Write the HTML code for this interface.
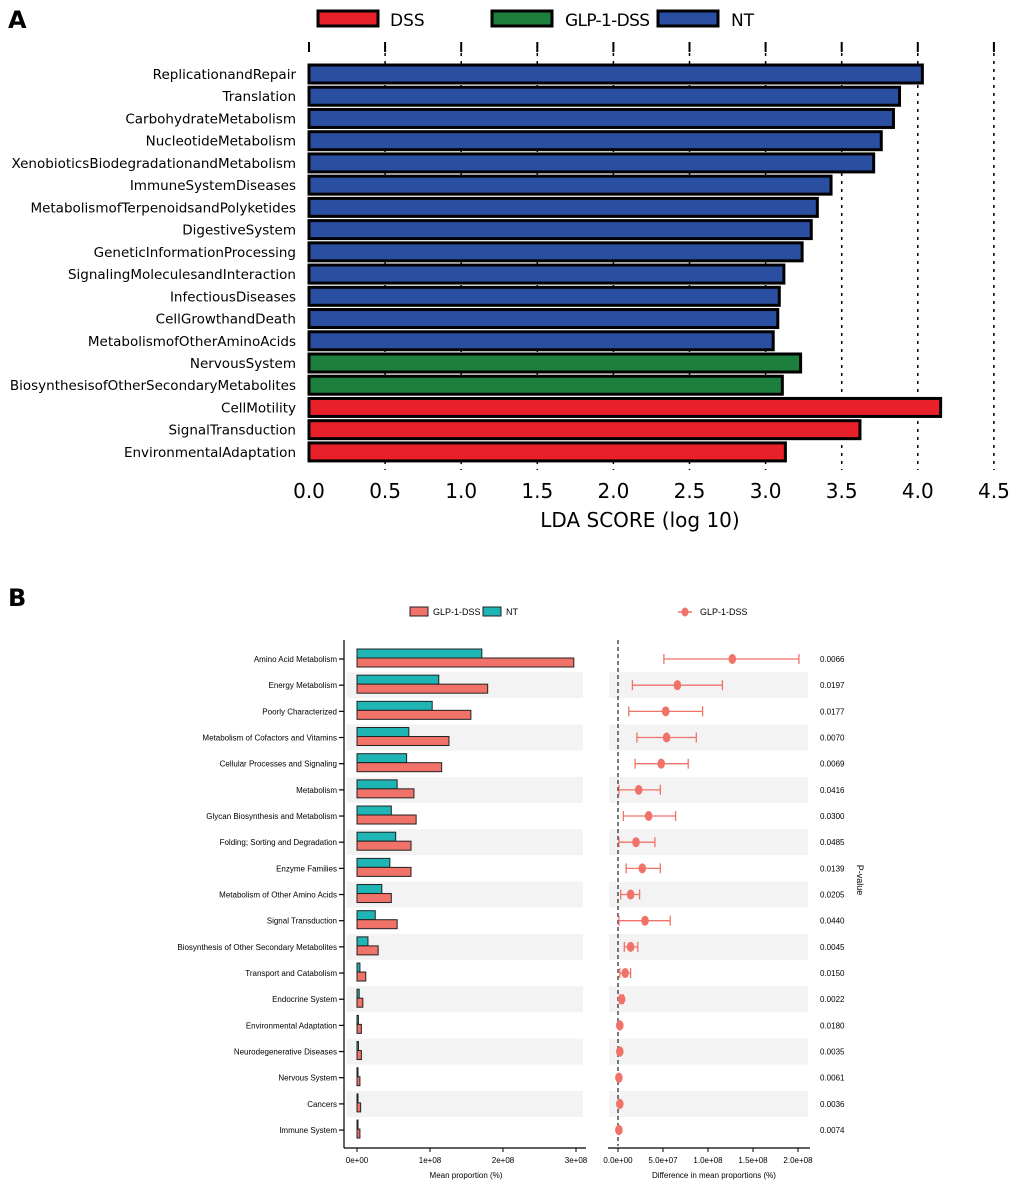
<!DOCTYPE html>
<html><head><meta charset="utf-8"><style>
body{margin:0;background:#fff}
svg{display:block}
.a{font-family:"DejaVu Sans","Liberation Sans",sans-serif}
.b{font-family:"Liberation Sans Narrow","Liberation Sans",sans-serif}
</style></head><body>
<svg id="s" width="1020" height="1192" viewBox="0 0 1020 1192" xmlns="http://www.w3.org/2000/svg">
<text x="8" y="28" class="a" font-size="24" font-weight="bold">A</text>
<text x="8" y="606" class="a" font-size="24" font-weight="bold">B</text>
<g>
<rect x="318" y="11" width="60" height="15" fill="#e8202a" stroke="#000" stroke-width="3"/>
<text x="390" y="26" class="a" font-size="17">DSS</text>
<rect x="492" y="11" width="60" height="15" fill="#1d7f3e" stroke="#000" stroke-width="3"/>
<text x="565" y="26" class="a" font-size="17" textLength="85">GLP-1-DSS</text>
<rect x="658" y="11" width="60" height="15" fill="#2a4ea0" stroke="#000" stroke-width="3"/>
<text x="731" y="26" class="a" font-size="17">NT</text>
</g>
<g id="ga"></g>
<g>
<rect x="410" y="607" width="18" height="9" fill="#f07268" stroke="#222" stroke-width="1"/>
<text x="433" y="615" class="b" font-size="9">GLP-1-DSS</text>
<rect x="483" y="607" width="18" height="9" fill="#1fb5b5" stroke="#222" stroke-width="1"/>
<text x="506" y="615" class="b" font-size="9">NT</text>
<line x1="678" y1="612" x2="692" y2="612" stroke="#f07268" stroke-width="1.5"/>
<ellipse cx="685" cy="612" rx="3.5" ry="4.5" fill="#f07268"/>
<text x="700" y="615" class="b" font-size="9">GLP-1-DSS</text>
</g>
<g id="gb"></g>
<text transform="translate(857,880) rotate(90)" class="b" font-size="9" text-anchor="middle">P-value</text>
</svg>
<script>
const NS="http://www.w3.org/2000/svg";
function mk(p,t,a,txt){const e=document.createElementNS(NS,t);for(const k in a)e.setAttribute(k,a[k]);if(txt!==undefined)e.textContent=txt;p.appendChild(e);return e;}
// Panel A data
const aCats=["ReplicationandRepair","Translation","CarbohydrateMetabolism","NucleotideMetabolism","XenobioticsBiodegradationandMetabolism","ImmuneSystemDiseases","MetabolismofTerpenoidsandPolyketides","DigestiveSystem","GeneticInformationProcessing","SignalingMoleculesandInteraction","InfectiousDiseases","CellGrowthandDeath","MetabolismofOtherAminoAcids","NervousSystem","BiosynthesisofOtherSecondaryMetabolites","CellMotility","SignalTransduction","EnvironmentalAdaptation"];
const aScores=[4.03,3.88,3.84,3.76,3.71,3.43,3.34,3.30,3.24,3.12,3.09,3.08,3.05,3.23,3.11,4.15,3.62,3.13];
const aGroups=["NT","NT","NT","NT","NT","NT","NT","NT","NT","NT","NT","NT","NT","GLP-1-DSS","GLP-1-DSS","DSS","DSS","DSS"];
const aTicks=[0,0.5,1,1.5,2,2.5,3,3.5,4,4.5];
const aColors={"NT":"#2a4ea0","GLP-1-DSS":"#1d7f3e","DSS":"#e8202a"};
// Panel B data
const bCats=["Amino Acid Metabolism","Energy Metabolism","Poorly Characterized","Metabolism of Cofactors and Vitamins","Cellular Processes and Signaling","Metabolism","Glycan Biosynthesis and Metabolism","Folding; Sorting and Degradation","Enzyme Families","Metabolism of Other Amino Acids","Signal Transduction","Biosynthesis of Other Secondary Metabolites","Transport and Catabolism","Endocrine System","Environmental Adaptation","Neurodegenerative Diseases","Nervous System","Cancers","Immune System"];
const bNT=[1.71,1.12,1.03,0.71,0.68,0.55,0.47,0.53,0.45,0.34,0.25,0.15,0.04,0.03,0.02,0.02,0.01,0.01,0.01];
const bGLP=[2.97,1.79,1.56,1.26,1.16,0.78,0.81,0.74,0.74,0.47,0.55,0.29,0.12,0.08,0.06,0.06,0.04,0.05,0.04];
const bDiff=[12.7,6.6,5.3,5.4,4.8,2.3,3.4,2.0,2.7,1.4,3.0,1.4,0.8,0.4,0.2,0.2,0.1,0.2,0.1];
const bLo=[5.1,1.6,1.2,2.1,1.9,0.1,0.6,0.1,0.9,0.3,0.1,0.7,0.2,0.2,0.1,0.1,0.05,0.1,0.05];
const bHi=[20.1,11.6,9.4,8.7,7.8,4.7,6.4,4.1,4.7,2.4,5.8,2.2,1.4,0.6,0.3,0.3,0.15,0.3,0.15];
const bP=["0.0066","0.0197","0.0177","0.0070","0.0069","0.0416","0.0300","0.0485","0.0139","0.0205","0.0440","0.0045","0.0150","0.0022","0.0180","0.0035","0.0061","0.0036","0.0074"];
const bLeftTicks=[0,1,2,3];
const bLeftTickLabels=["0e+00","1e+08","2e+08","3e+08"];
const bRightTicks=[0,5,10,15,20];
const bRightTickLabels=["0.0e+00","5.0e+07","1.0e+08","1.5e+08","2.0e+08"];

// Panel A draw
const ga=document.getElementById('ga');
const ax=v=>309+v*152.2, ay=i=>74+i*22.23;
aTicks.forEach((t,i)=>{if(i>0){const l=mk(ga,'line',{x1:ax(t),x2:ax(t),y1:45,y2:470,stroke:'#000','stroke-width':1.5,'stroke-dasharray':'3,5'});

}
const tk=mk(ga,'line',{x1:ax(t),x2:ax(t),y1:42,y2:52,stroke:'#000','stroke-width':2});


const tl=mk(ga,'text',{x:ax(t),y:498,'text-anchor':'middle','font-size':20,class:'a'},t.toFixed(1));

});
aCats.forEach((c,i)=>{const r=mk(ga,'rect',{x:ax(0),y:ay(i)-9,width:ax(aScores[i])-ax(0),height:18,fill:aColors[aGroups[i]],stroke:'#000','stroke-width':3});


const t=mk(ga,'text',{x:296,y:ay(i)+5,'text-anchor':'end','font-size':13.5,class:'a'},c);

});
const xt=mk(ga,'text',{x:640,y:527,'text-anchor':'middle','font-size':20,class:'a'},'LDA SCORE (log 10)');



// Panel B draw
const gb=document.getElementById('gb');
const lx=v=>357+v*73, rx=v=>618+v*9, by=i=>659+i*26.17;
bCats.forEach((c,i)=>{if(i%2==1){const s1=mk(gb,'rect',{x:347,y:by(i)-13,width:236,height:26,fill:'#f3f3f3'});


const s2=mk(gb,'rect',{x:609,y:by(i)-13,width:199,height:26,fill:'#f3f3f3'});

}});
mk(gb,'line',{x1:344,x2:344,y1:640,y2:1148,stroke:'#000','stroke-width':1.2});
mk(gb,'line',{x1:344,x2:586,y1:1148,y2:1148,stroke:'#000','stroke-width':1.2});
mk(gb,'line',{x1:608,x2:810,y1:1148,y2:1148,stroke:'#000','stroke-width':1.2});
mk(gb,'line',{x1:rx(0),x2:rx(0),y1:640,y2:1146,stroke:'#222','stroke-width':1.2,'stroke-dasharray':'4,3'});
bLeftTicks.forEach((t,i)=>{mk(gb,'line',{x1:lx(t),x2:lx(t),y1:1148,y2:1152,stroke:'#000'});
const l=mk(gb,'text',{x:lx(t),y:1163,'text-anchor':'middle','font-size':8,class:'b'},bLeftTickLabels[i]);

});
bRightTicks.forEach((t,i)=>{mk(gb,'line',{x1:rx(t),x2:rx(t),y1:1148,y2:1152,stroke:'#000'});
const l=mk(gb,'text',{x:rx(t),y:1163,'text-anchor':'middle','font-size':8,class:'b'},bRightTickLabels[i]);

});
const t1=mk(gb,'text',{x:466,y:1178,'text-anchor':'middle','font-size':8,class:'b'},'Mean proportion (%)');


const t2=mk(gb,'text',{x:714,y:1178,'text-anchor':'middle','font-size':8,class:'b'},'Difference in mean proportions (%)');


bCats.forEach((c,i)=>{const y=by(i);
mk(gb,'line',{x1:339,x2:344,y1:y,y2:y,stroke:'#000','stroke-width':1.2});
const lb=mk(gb,'text',{x:337,y:y+3,'text-anchor':'end','font-size':8,class:'b'},c);


const r1=mk(gb,'rect',{x:lx(0),y:y-10,width:Math.max(lx(bNT[i])-lx(0),1),height:9,fill:'#1fb5b5',stroke:'#222','stroke-width':1});


const r2=mk(gb,'rect',{x:lx(0),y:y-1,width:Math.max(lx(bGLP[i])-lx(0),1),height:9,fill:'#f07268',stroke:'#222','stroke-width':1});


mk(gb,'line',{x1:rx(bLo[i]),x2:rx(bHi[i]),y1:y,y2:y,stroke:'#f07268','stroke-width':1.3});
mk(gb,'line',{x1:rx(bLo[i]),x2:rx(bLo[i]),y1:y-5,y2:y+5,stroke:'#f07268','stroke-width':1.3});
mk(gb,'line',{x1:rx(bHi[i]),x2:rx(bHi[i]),y1:y-5,y2:y+5,stroke:'#f07268','stroke-width':1.3});
const pt=mk(gb,'ellipse',{cx:rx(bDiff[i]),cy:y,rx:3.8,ry:5,fill:'#f07268'});


const pv=mk(gb,'text',{x:820,y:y+3,'font-size':8,class:'b'},bP[i]);

});
</script>
</body></html>
